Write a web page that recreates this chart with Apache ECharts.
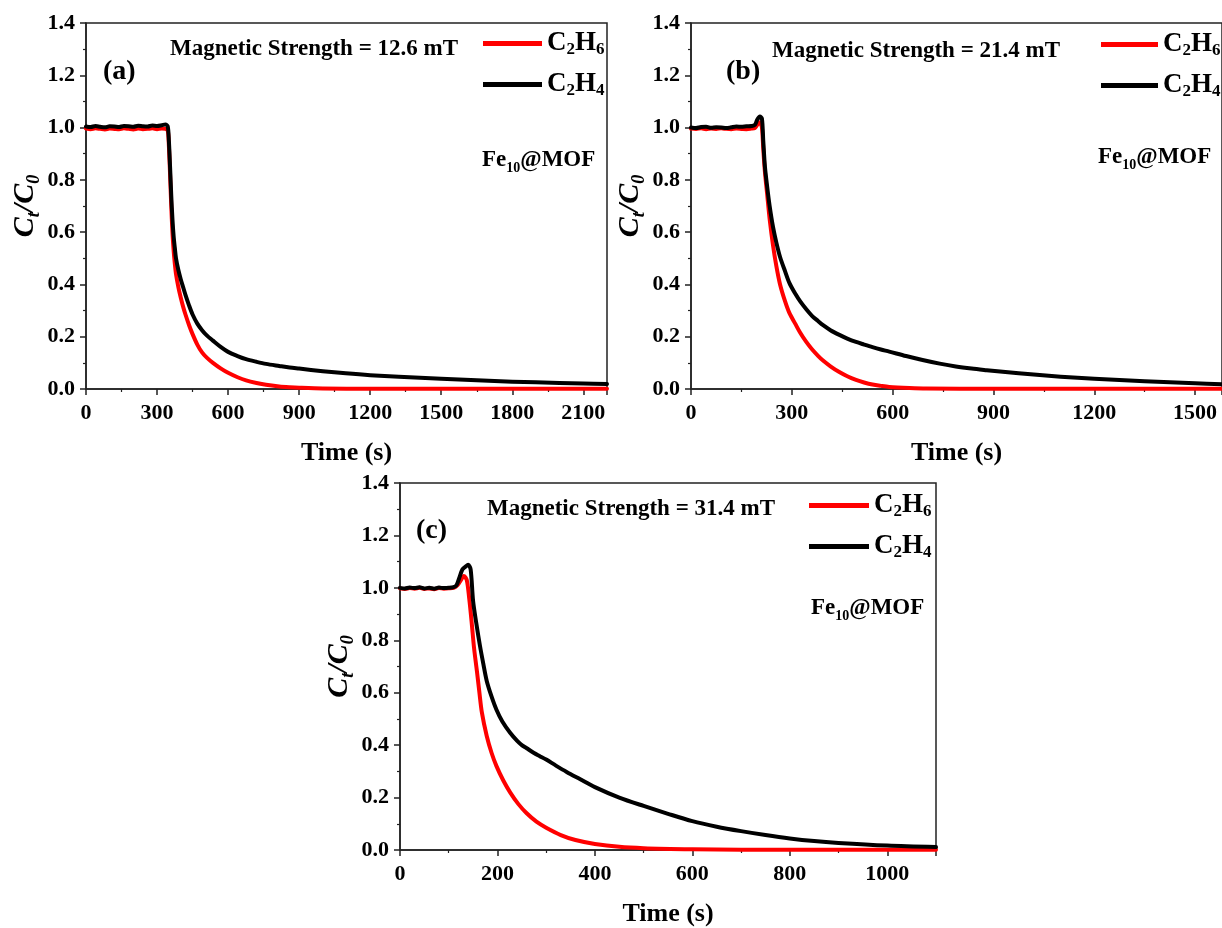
<!DOCTYPE html>
<html><head><meta charset="utf-8">
<script src="https://cdn.jsdelivr.net/npm/echarts@6/dist/echarts.min.js"></script>
<style>html,body{margin:0;padding:0;background:#fff;overflow:hidden}#c{width:1222px;height:928px}</style>
</head><body><div id="c"></div><script>
// ---------- DATA ----------
const seriesNames = ['C2H6', 'C2H4'];
const yTicks = [0, 0.2, 0.4, 0.6, 0.8, 1.0, 1.2, 1.4];

// Panel (a) 12.6 mT
const aXTicks = [0, 300, 600, 900, 1200, 1500, 1800, 2100];
const aXMax = 2200;
const aT_C2H6 = [0,20,40,60,80,100,120,140,160,180,200,220,240,260,280,300,320,335,345,350,355,360,365,370,375,380,390,400,410,420,435,450,470,490,510,536,570,600,640,676,720,760,816,860,900,1000,1200,1500,1800,2200];
const aV_C2H6 = [0.996,0.994,0.997,0.995,0.993,0.996,0.995,0.994,0.997,0.995,0.993,0.996,0.994,0.995,0.997,0.994,0.996,0.995,0.99,0.93,0.82,0.70,0.60,0.53,0.48,0.44,0.39,0.35,0.315,0.285,0.245,0.21,0.17,0.14,0.12,0.10,0.078,0.062,0.045,0.033,0.023,0.016,0.010,0.007,0.005,0.002,0.001,0.0005,0.0005,0.0005];
const aT_C2H4 = [0,20,40,60,80,100,120,140,160,180,200,220,240,260,280,300,320,335,345,350,355,360,365,370,375,380,390,400,410,420,435,450,470,490,510,536,570,600,640,676,720,760,816,860,900,1000,1097,1200,1321,1500,1650,1800,2000,2100,2200];
const aV_C2H4 = [1.004,1.002,1.006,1.003,1.001,1.005,1.004,1.002,1.006,1.005,1.003,1.007,1.005,1.004,1.008,1.006,1.009,1.012,1.005,0.95,0.85,0.74,0.65,0.585,0.54,0.50,0.455,0.42,0.39,0.36,0.32,0.285,0.25,0.225,0.205,0.185,0.16,0.142,0.126,0.114,0.104,0.096,0.088,0.082,0.078,0.068,0.06,0.053,0.047,0.039,0.033,0.028,0.023,0.021,0.019];

// Panel (b) 21.4 mT
const bXTicks = [0, 300, 600, 900, 1200, 1500];
const bXMax = 1580;
const bT_C2H6 = [0,15,30,45,60,75,90,105,120,135,150,165,180,190,197,205,211,215,220,227,234,244,254,265,280,293,310,325,343,360,378,392,415,440,465,491,515,540,565,590,650,700,900,1200,1580];
const bV_C2H6 = [0.996,0.995,0.997,0.994,0.996,0.995,0.997,0.995,0.994,0.996,0.995,0.994,0.996,0.998,1.01,1.02,1.0,0.92,0.83,0.74,0.65,0.55,0.47,0.40,0.335,0.29,0.25,0.215,0.18,0.152,0.127,0.11,0.087,0.066,0.049,0.035,0.025,0.017,0.012,0.008,0.004,0.002,0.001,0.0005,0.0005];
const bT_C2H4 = [0,15,30,45,60,75,90,105,120,135,150,165,180,190,197,205,211,215,220,227,234,244,254,265,280,293,310,325,343,360,378,392,415,440,465,491,515,540,565,590,640,689,740,788,835,880,975,1100,1200,1350,1500,1580];
const bV_C2H4 = [1.0,0.998,1.002,1.003,0.999,1.001,1.0,0.998,1.001,1.004,1.003,1.005,1.006,1.01,1.03,1.042,1.035,0.95,0.85,0.77,0.70,0.62,0.56,0.505,0.45,0.405,0.365,0.335,0.305,0.28,0.26,0.245,0.225,0.208,0.193,0.18,0.17,0.16,0.151,0.143,0.126,0.111,0.097,0.086,0.078,0.072,0.06,0.047,0.039,0.03,0.022,0.018];

// Panel (c) 31.4 mT
const cXTicks = [0, 200, 400, 600, 800, 1000];
const cXMax = 1100;
const cT_C2H6 = [0,10,20,30,40,50,60,70,80,90,100,110,118,125,131,137,142,147,152,158,163,168,178,188,198,212,226,243,260,280,300,330,360,400,450,500,600,700,1100];
const cV_C2H6 = [0.998,0.996,0.999,0.997,1.0,0.996,0.998,0.995,0.999,0.997,0.998,1.0,1.01,1.03,1.045,1.03,0.96,0.87,0.77,0.68,0.60,0.525,0.435,0.37,0.32,0.265,0.22,0.175,0.14,0.108,0.085,0.057,0.038,0.023,0.012,0.007,0.003,0.001,0.0005];
const cT_C2H4 = [0,10,20,30,40,50,60,70,80,90,100,110,116,122,128,134,140,145,150,157,164,171,178,188,198,210,226,240,250,260,275,287,300,320,342,370,400,450,500,550,600,650,700,750,800,850,900,1000,1100];
const cV_C2H4 = [1.0,0.998,1.001,0.999,1.002,0.998,1.0,0.997,1.001,0.999,1.0,1.003,1.01,1.04,1.07,1.08,1.088,1.07,0.95,0.86,0.78,0.71,0.645,0.585,0.535,0.49,0.447,0.417,0.40,0.388,0.37,0.358,0.345,0.322,0.298,0.27,0.24,0.2,0.168,0.138,0.11,0.089,0.072,0.057,0.044,0.034,0.027,0.017,0.011];

const panelLabels = ['(a)', '(b)', '(c)'];
const fieldTexts = ['Magnetic Strength = 12.6 mT', 'Magnetic Strength = 21.4 mT', 'Magnetic Strength = 31.4 mT'];

// ---------- CHART ----------
const FONT = '"Liberation Serif", "Times New Roman", serif';
const zip = (t, v) => t.map((x, i) => [x, v[i]]);
const grids = [
  {left: 86, top: 23, width: 521, height: 366},
  {left: 691, top: 23, width: 533, height: 366},
  {left: 400, top: 483, width: 536, height: 368}
];
const xTickSets = [aXTicks, bXTicks, cXTicks];
const xMaxes = [aXMax, bXMax, cXMax];
const data = [
  [zip(aT_C2H6, aV_C2H6), zip(aT_C2H4, aV_C2H4)],
  [zip(bT_C2H6, bV_C2H6), zip(bT_C2H4, bV_C2H4)],
  [zip(cT_C2H6, cV_C2H6), zip(cT_C2H4, cV_C2H4)]
];
const colors = ['#ff0000', '#000000'];
const axisLineStyle = {color: '#222', width: 1.5};
const labelStyle = {fontFamily: FONT, fontWeight: 'bold', fontSize: 22, color: '#000'};

const xAxes = [], yAxes = [], series = [], legends = [], graphics = [];
const legendPos = [
  {left: 478, top: 25, w: 59},
  {left: 1096, top: 26, w: 57},
  {left: 804, top: 487, w: 60}
];
const annoPos = [
  {mx: 170, my: 49, lx: 103, ly: 72, fx: 482, fy: 160},
  {mx: 772, my: 51, lx: 726, ly: 72, fx: 1098, fy: 157},
  {mx: 487, my: 509, lx: 416, ly: 531, fx: 811, fy: 608}
];
const subRich = (size, sub) => ({
  b: {fontFamily: FONT, fontWeight: 'bold', fontSize: size, color: '#000', lineHeight: 30, verticalAlign: 'middle'},
  s: {fontFamily: FONT, fontWeight: 'bold', fontSize: sub, color: '#000', lineHeight: 30, verticalAlign: 'bottom'}
});
const formulaFmt = n => n === 'C2H6' ? '{b|C}{s|2}{b|H}{s|6}' : '{b|C}{s|2}{b|H}{s|4}';

for (let p = 0; p < 3; p++) {
  const ticks = xTickSets[p];
  xAxes.push({
    gridIndex: p, type: 'value', min: ticks[0], max: xMaxes[p], interval: ticks[1] - ticks[0],
    name: 'Time (s)', nameLocation: 'middle', nameGap: 51,
    nameTextStyle: {fontFamily: FONT, fontWeight: 'bold', fontSize: 26, color: '#000'},
    axisLine: {show: true, onZero: false, lineStyle: axisLineStyle},
    axisTick: {show: true, inside: false, length: 6, lineStyle: axisLineStyle},
    minorTick: {show: true, splitNumber: 2, length: 3, lineStyle: {color: '#222', width: 1.2}},
    axisLabel: Object.assign({margin: 13, showMaxLabel: false, formatter: v => String(v)}, labelStyle),
    splitLine: {show: false}
  });
  yAxes.push({
    gridIndex: p, type: 'value', min: yTicks[0], max: yTicks[yTicks.length - 1], interval: yTicks[1] - yTicks[0],
    name: '{i|C}{st|t}{i|/C}{st|0}', nameLocation: 'middle', nameGap: 42, nameRotate: 90,
    nameTextStyle: {rich: {
      i: {fontFamily: FONT, fontStyle: 'italic', fontWeight: 'bold', fontSize: 30, color: '#000', lineHeight: 36, verticalAlign: 'middle'},
      st: {fontFamily: FONT, fontStyle: 'italic', fontWeight: 'bold', fontSize: 18, color: '#000', lineHeight: 36, verticalAlign: 'bottom'}
    }},
    axisLine: {show: true, onZero: false, lineStyle: axisLineStyle},
    axisTick: {show: true, inside: false, length: 6, lineStyle: axisLineStyle},
    minorTick: {show: true, splitNumber: 2, length: 3, lineStyle: {color: '#222', width: 1.2}},
    axisLabel: Object.assign({margin: 11, formatter: v => v.toFixed(1)}, labelStyle),
    splitLine: {show: false}
  });
  for (let s = 0; s < 2; s++) {
    series.push({
      type: 'line', name: seriesNames[s], xAxisIndex: p, yAxisIndex: p,
      data: data[p][s], showSymbol: false, smooth: 0.3,
      lineStyle: {color: colors[s], width: 4, join: 'round', cap: 'round'}, itemStyle: {color: colors[s]},
      z: 2 + s, animation: false
    });
  }
  const lp = legendPos[p];
  legends.push({
    data: seriesNames, orient: 'vertical', left: lp.left, top: lp.top,
    icon: 'rect', itemWidth: lp.w, itemHeight: 5, itemGap: 12.5, selectedMode: false,
    formatter: formulaFmt, textStyle: {rich: subRich(27, 17)}
  });
  const a = annoPos[p];
  graphics.push({type: 'text', x: a.mx, y: a.my, style: {text: fieldTexts[p], fontFamily: FONT, fontWeight: 'bold', fontSize: 23, fill: '#000', verticalAlign: 'middle'}});
  graphics.push({type: 'text', x: a.lx, y: a.ly, style: {text: panelLabels[p], fontFamily: FONT, fontWeight: 'bold', fontSize: 28, fill: '#000', verticalAlign: 'middle'}});
  graphics.push({type: 'text', x: a.fx, y: a.fy, style: {text: '{b|Fe}{s|10}{b|@MOF}', verticalAlign: 'middle', rich: subRich(23, 14)}});
}

const chart = echarts.init(document.getElementById('c'), null, {renderer: 'canvas'});
chart.setOption({
  animation: false,
  backgroundColor: '#fff',
  grid: grids.map(g => Object.assign({show: true, borderColor: '#222', borderWidth: 1.5, backgroundColor: 'transparent'}, g)),
  xAxis: xAxes, yAxis: yAxes, legend: legends, series: series, graphic: graphics
});
</script></body></html>
